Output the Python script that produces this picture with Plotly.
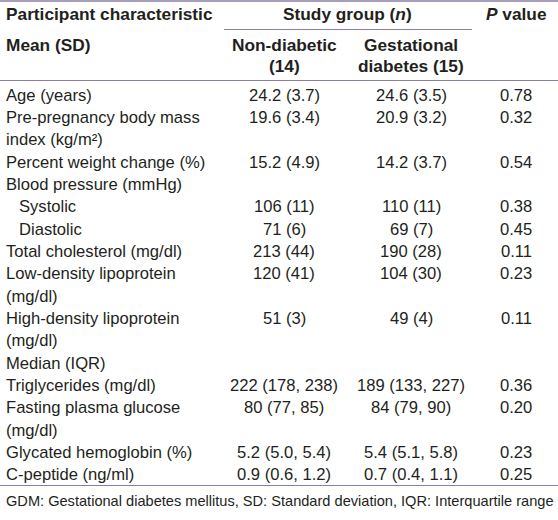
import plotly.graph_objects as go

# ---- data ----
characteristics = [
    "Age (years)",
    "Pre-pregnancy body mass|index (kg/m²)",
    "Percent weight change (%)",
    "Blood pressure (mmHg)",
    "Systolic",
    "Diastolic",
    "Total cholesterol (mg/dl)",
    "Low-density lipoprotein|(mg/dl)",
    "High-density lipoprotein|(mg/dl)",
    "Median (IQR)",
    "Triglycerides (mg/dl)",
    "Fasting plasma glucose|(mg/dl)",
    "Glycated hemoglobin (%)",
    "C-peptide (ng/ml)",
]
indented = [0, 0, 0, 0, 1, 1, 0, 0, 0, 0, 0, 0, 0, 0]
non_diabetic = ["24.2 (3.7)", "19.6 (3.4)", "15.2 (4.9)", "", "106 (11)", "71 (6)",
                "213 (44)", "120 (41)", "51 (3)", "", "222 (178, 238)", "80 (77, 85)",
                "5.2 (5.0, 5.4)", "0.9 (0.6, 1.2)"]
gestational = ["24.6 (3.5)", "20.9 (3.2)", "14.2 (3.7)", "", "110 (11)", "69 (7)",
               "190 (28)", "104 (30)", "49 (4)", "", "189 (133, 227)", "84 (79, 90)",
               "5.4 (5.1, 5.8)", "0.7 (0.4, 1.1)"]
p_values = ["0.78", "0.32", "0.54", "", "0.38", "0.45", "0.11", "0.23", "0.11", "",
            "0.36", "0.20", "0.23", "0.25"]
header_top = ["Participant characteristic", "Study group (<i>n</i>)", "<i>P</i> value"]
header_sub = ["Mean (SD)", "Non-diabetic|(14)", "Gestational|diabetes (15)"]
footnote = "GDM: Gestational diabetes mellitus, SD: Standard deviation, IQR: Interquartile range"

# ---- style ----
W, H = 558, 520
FONT = "Liberation Sans, Arial, sans-serif"
TXT = "#231f20"
RULE = "#8c7ca6"
FS = 16.6
FS_B = 17.3
LINE_H = 22.35
COL_LABEL = 4
COL_IND = 17
COL_ND = 284
COL_GDM = 411
COL_P = 516

fig = go.Figure()
ann = []

def text(x, y, s, anchor="left", bold=False, size=FS):
    if bold:
        s = "<b>" + s + "</b>"
    ann.append(dict(x=x, y=y, xref="x", yref="y", text=s, showarrow=False,
                    xanchor=anchor, yanchor="middle",
                    font=dict(family=FONT, size=size, color=TXT)))

# headers
text(COL_LABEL, 14, header_top[0], bold=True, size=FS_B)
text(347, 14, header_top[1], anchor="center", bold=True, size=FS_B)
text(COL_P, 14, header_top[2], anchor="center", bold=True, size=FS_B)
text(COL_LABEL, 45, header_sub[0], bold=True, size=FS_B)
for cx, lab in [(COL_ND, header_sub[1]), (COL_GDM, header_sub[2])]:
    for k, part in enumerate(lab.split("|")):
        text(cx, 45 + k * 21, part, anchor="center", bold=True, size=FS_B)

# body rows
y = 95
for lab, ind, nd, gd, p in zip(characteristics, indented, non_diabetic, gestational, p_values):
    parts = lab.split("|")
    x0 = COL_IND if ind else COL_LABEL
    for k, part in enumerate(parts):
        text(x0, y + k * LINE_H, part)
    if nd:
        text(COL_ND, y, nd, anchor="center")
    if gd:
        text(COL_GDM, y, gd, anchor="center")
    if p:
        text(COL_P, y, p, anchor="center")
    y += LINE_H * len(parts)

text(COL_LABEL, 501, footnote, size=14.6)

shapes = [
    dict(type="line", xref="x", yref="y", x0=0, x1=W, y0=1, y1=1, line=dict(color=RULE, width=1.6)),
    dict(type="line", xref="x", yref="y", x0=224, x1=472, y0=29.5, y1=29.5, line=dict(color=RULE, width=1.2)),
    dict(type="line", xref="x", yref="y", x0=0, x1=W, y0=80.5, y1=80.5, line=dict(color=RULE, width=1.2)),
    dict(type="line", xref="x", yref="y", x0=0, x1=W, y0=485.5, y1=485.5, line=dict(color=RULE, width=1.2)),
]

fig.update_layout(
    width=W, height=H, margin=dict(l=0, r=0, t=0, b=0),
    paper_bgcolor="white", plot_bgcolor="white",
    xaxis=dict(range=[0, W], visible=False, fixedrange=True),
    yaxis=dict(range=[H, 0], visible=False, fixedrange=True),
    annotations=ann, shapes=shapes, showlegend=False,
)
fig.write_html(
    "out.html",
    config={"displayModeBar": False},
    post_script="document.body.style.margin='0';document.body.style.overflow='hidden';",
)
